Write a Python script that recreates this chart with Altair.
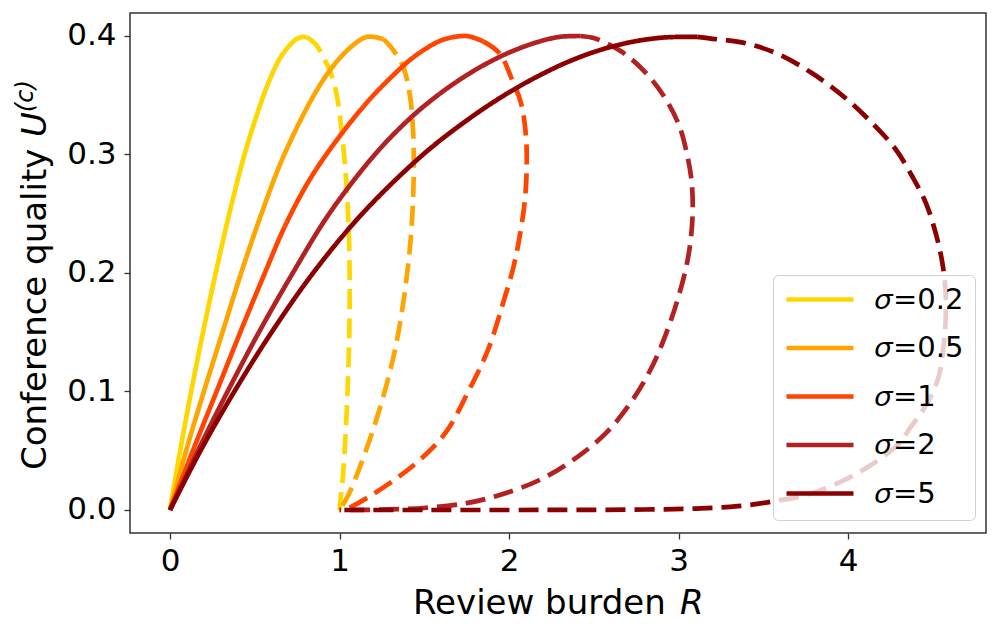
import altair as alt
import pandas as pd

sigma_labels = ["𝜎=0.2", "𝜎=0.5", "𝜎=1", "𝜎=2", "𝜎=5"]
line_colors = ["#FFD700", "#FFA500", "#FF4500", "#B22222", "#8B0000"]
x_ticks = [0, 1, 2, 3, 4]
y_ticks = [0.0, 0.1, 0.2, 0.3, 0.4]

# sigma = 0.2
r_02_solid = [0, 0.06, 0.125, 0.195, 0.27, 0.35, 0.44, 0.505, 0.58, 0.645, 0.695, 0.745, 0.786, 0.81]
u_02_solid = [0, 0.05, 0.10, 0.15, 0.20, 0.25, 0.30, 0.33, 0.36, 0.38, 0.39, 0.397, 0.399, 0.3985]
r_02_dash = [0.81, 0.864, 0.904, 0.950, 0.985, 1.010, 1.030, 1.045, 1.055, 1.060, 1.058, 1.050, 1.038, 1.022, 1.000]
u_02_dash = [0.3985, 0.392, 0.382, 0.368, 0.349, 0.323, 0.295, 0.265, 0.233, 0.195, 0.150, 0.110, 0.070, 0.032, 0.000]

# sigma = 0.5
r_05_solid = [0, 0.095, 0.20, 0.31, 0.42, 0.54, 0.645, 0.74, 0.83, 0.915, 0.995, 1.08, 1.15, 1.198, 1.26]
u_05_solid = [0, 0.05, 0.10, 0.15, 0.20, 0.25, 0.29, 0.32, 0.345, 0.365, 0.38, 0.392, 0.3985, 0.399, 0.397]
r_05_dash = [1.26, 1.316, 1.375, 1.414, 1.434, 1.438, 1.432, 1.418, 1.395, 1.36, 1.31, 1.23, 1.13, 1.05, 1.0]
u_05_dash = [0.397, 0.388, 0.374, 0.351, 0.320, 0.287, 0.256, 0.225, 0.195, 0.160, 0.124, 0.082, 0.040, 0.012, 0.0]

# sigma = 1
r_1_solid = [0, 0.135, 0.275, 0.415, 0.56, 0.68, 0.83, 1.0, 1.17, 1.305, 1.42, 1.52, 1.60, 1.68, 1.76, 1.85]
u_1_solid = [0, 0.05, 0.10, 0.15, 0.20, 0.24, 0.28, 0.315, 0.345, 0.365, 0.38, 0.39, 0.396, 0.399, 0.3995, 0.395]
r_1_dash = [1.85, 1.945, 2.012, 2.071, 2.10, 2.104, 2.092, 2.062, 2.028, 1.964, 1.876, 1.76, 1.63, 1.48, 1.33, 1.16, 1.05, 1.0]
u_1_dash = [0.395, 0.385, 0.365, 0.343, 0.315, 0.287, 0.259, 0.230, 0.206, 0.174, 0.135, 0.100, 0.066, 0.043, 0.026, 0.010, 0.0015, 0.0]

# sigma = 2
r_2_solid = [0, 0.165, 0.34, 0.525, 0.725, 0.94, 1.21, 1.414, 1.582, 1.732, 1.888, 2.038, 2.178, 2.30, 2.42]
u_2_solid = [0, 0.05, 0.10, 0.15, 0.20, 0.25, 0.30, 0.33, 0.35, 0.365, 0.378, 0.388, 0.395, 0.399, 0.3997]
r_2_dash = [2.42, 2.50, 2.575, 2.693, 2.83, 2.928, 3.007, 3.05, 3.075, 3.084, 3.075, 3.05, 3.0, 2.93, 2.848,
            2.73, 2.573, 2.377, 2.18, 1.945, 1.75, 1.50, 1.25, 1.0]
u_2_dash = [0.3997, 0.398, 0.3935, 0.3836, 0.365, 0.3457, 0.323, 0.300, 0.280, 0.256, 0.232, 0.208, 0.180, 0.150, 0.122,
            0.093, 0.065, 0.042, 0.0253, 0.0126, 0.0058, 0.0017, 0.0003, 0.0]

# sigma = 5
r_5_solid = [0, 0.18, 0.38, 0.60, 0.845, 1.135, 1.495, 1.765, 1.975, 2.16, 2.35, 2.54, 2.735, 2.92, 3.11]
u_5_solid = [0, 0.05, 0.10, 0.15, 0.20, 0.25, 0.30, 0.33, 0.35, 0.365, 0.378, 0.388, 0.395, 0.3985, 0.399]
r_5_dash = [3.11, 3.182, 3.398, 3.595, 3.791, 3.988, 4.144, 4.282, 4.380, 4.459, 4.518, 4.557, 4.575, 4.577, 4.565,
            4.53, 4.45, 4.37, 4.30, 4.12, 3.93, 3.75, 3.57, 3.35, 3.1, 2.8, 2.4, 2.0, 1.5, 1.0]
u_5_dash = [0.399, 0.3977, 0.3935, 0.384, 0.368, 0.347, 0.326, 0.304, 0.281, 0.259, 0.233, 0.208, 0.185, 0.165, 0.140,
            0.110, 0.086, 0.070, 0.056, 0.0365, 0.022, 0.0126, 0.0075, 0.0032, 0.0012, 0.0004, 0.0001, 0.0, 0.0, 0.0]

series = [
    (sigma_labels[0], r_02_solid, u_02_solid, r_02_dash, u_02_dash),
    (sigma_labels[1], r_05_solid, u_05_solid, r_05_dash, u_05_dash),
    (sigma_labels[2], r_1_solid, u_1_solid, r_1_dash, u_1_dash),
    (sigma_labels[3], r_2_solid, u_2_solid, r_2_dash, u_2_dash),
    (sigma_labels[4], r_5_solid, u_5_solid, r_5_dash, u_5_dash),
]

rows = []
for lab, rs, us, rd, ud in series:
    for i, (r, u) in enumerate(zip(rs, us)):
        rows.append({"sigma": lab, "style": "solid", "seg": lab + " solid", "idx": i, "R": r, "U": u})
    for i, (r, u) in enumerate(zip(rd, ud)):
        rows.append({"sigma": lab, "style": "dashed", "seg": lab + " dashed", "idx": i, "R": r, "U": u})
df = pd.DataFrame(rows)

FONT = "DejaVu Sans"

lines = alt.Chart(df).mark_line(strokeWidth=4.7, clip=True, interpolate="catmull-rom").encode(
    x=alt.X("R:Q",
            scale=alt.Scale(domain=[-0.236, 4.814], nice=False, zero=False),
            axis=alt.Axis(values=x_ticks, format="d", title=None, labelPadding=7)),
    y=alt.Y("U:Q",
            scale=alt.Scale(domain=[-0.0194, 0.4191], nice=False, zero=False),
            axis=alt.Axis(values=y_ticks, format=".1f", title=None, labelPadding=8)),
    color=alt.Color("sigma:N",
                    scale=alt.Scale(domain=sigma_labels, range=line_colors),
                    legend=alt.Legend(title=None, orient="none", legendX=643, legendY=262,
                                      symbolType="stroke", symbolSize=4489, symbolStrokeWidth=4.7,
                                      clipHeight=27,
                                      labelFontSize=29, labelFont=FONT, labelColor="black",
                                      fillColor="rgba(255,255,255,0.8)", strokeColor="#d0d0d0",
                                      cornerRadius=5, padding=11, rowPadding=18.5, labelOffset=19)),
    strokeDash=alt.StrokeDash("style:N",
                              scale=alt.Scale(domain=["solid", "dashed"], range=[[1, 0], [20, 9]]),
                              legend=None),
    detail="seg:N",
    order="idx:Q",
)

def label(text, x, y, size=34, style="normal", angle=0, align="left"):
    return alt.Chart(pd.DataFrame({"t": [text]})).mark_text(
        font=FONT, fontSize=size, fontStyle=style, angle=angle, align=align,
        baseline="alphabetic", color="black"
    ).encode(text="t:N", x=alt.value(x), y=alt.value(y))

y_title = label("Conference quality", -84, 457, angle=270)
y_U = label("U", -84, 124, style="italic", angle=270)
y_c = label("(c)", -97, 99, size=24, style="italic", angle=270)
x_title = label("Review burden", 283, 601)
x_R = label("R", 550, 601, style="italic")

chart = alt.layer(lines, y_title, y_U, y_c, x_title, x_R).properties(
    width=856, height=520,
    autosize=alt.AutoSizeParams(type="none"),
    padding={"left": 122, "top": 5, "right": 6, "bottom": 90},
).configure_view(stroke="#333333", strokeWidth=1.5).configure_axis(
    grid=False, domain=False, tickColor="#333333", tickWidth=1.3, tickSize=6,
    labelFont=FONT, labelFontSize=31, labelColor="black"
)

chart.save("out.html", embed_options={"renderer": "svg", "actions": False})
